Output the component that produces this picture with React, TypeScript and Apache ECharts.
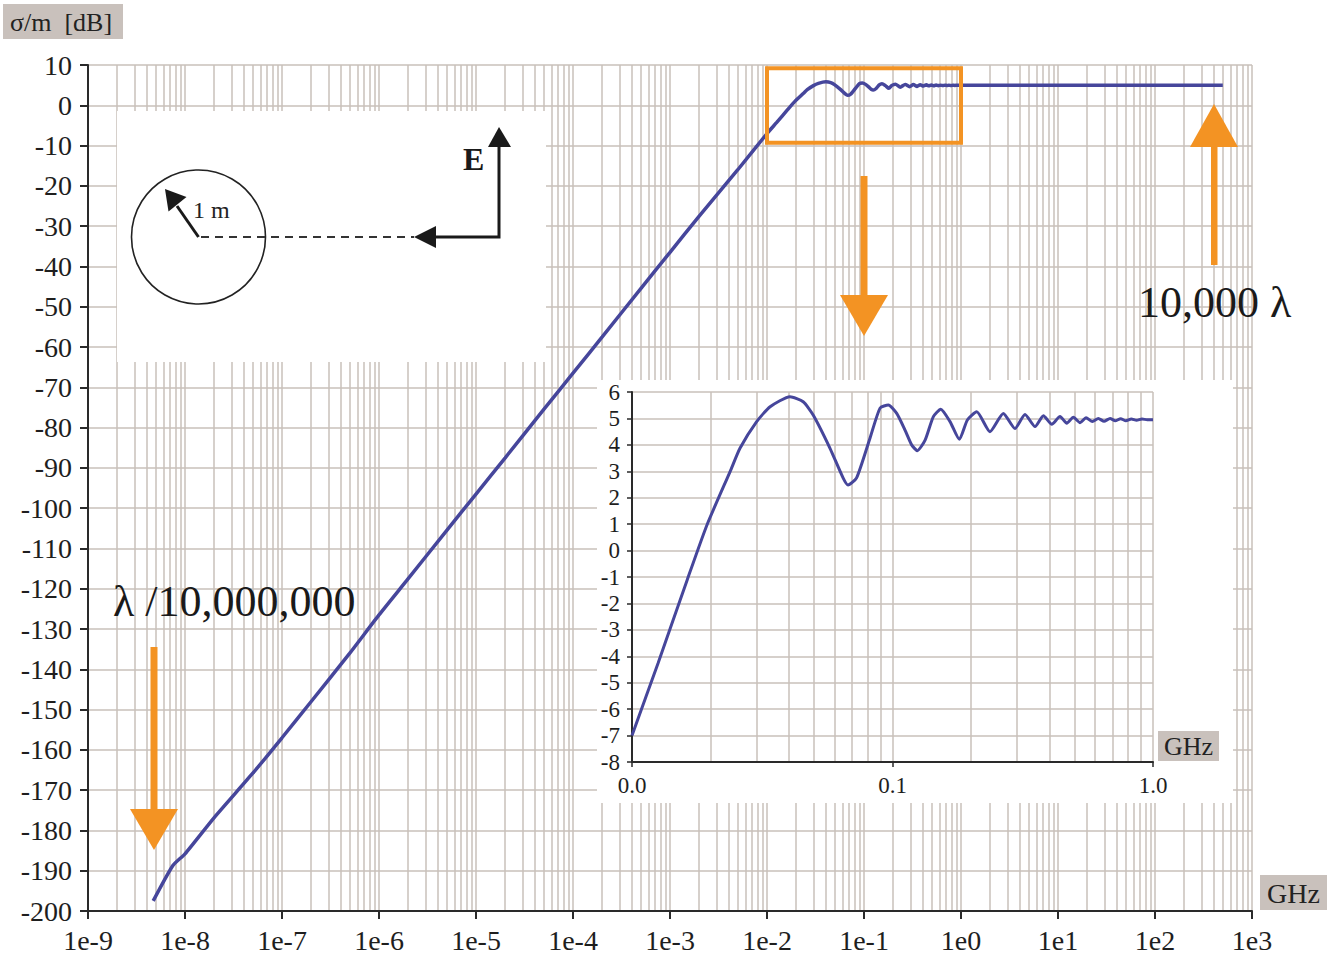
import React, { useEffect, useRef } from 'react';
import * as echarts from 'echarts';

const SERIF = '"Liberation Serif", "Times New Roman", serif';
const GRID_COLOR = '#c9c0ba';
const AXIS_COLOR = '#2a2a2a';
const LABEL_COLOR = '#1e1e1e';
const CURVE_COLOR = '#46469b';
const ORANGE = '#f39323';
const BOX_FILL = '#c9c1bc';

// Main axes (frequency in GHz, log scale; sigma/m in dB)
const mainFreqMin = 1e-9;
const mainFreqMax = 1e3;
const mainExpMin = -9; // decade exponents shown on the frequency axis
const mainExpMax = 3;
const mainDbMin = -200;
const mainDbMax = 10;
const mainDbStep = 10;
const mainDecades = [-9, -8, -7, -6, -5, -4, -3, -2, -1, 0, 1, 2];
const minorMultipliers = [2, 3, 4, 5, 6, 7, 8, 9];

// Zoomed panel axes
const zoomFreqMin = 0.01;
const zoomFreqMax = 1;
const zoomDbMin = -8;
const zoomDbMax = 6;
const zoomDbStep = 1;
const zoomDecades = [-2, -1];

// Rayleigh region of the 1 m sphere
const rayleighFreq = [4.7e-9, 7.5e-9, 1e-8, 2e-8, 5e-8, 1e-7, 2e-7, 5e-7, 1e-6, 2e-6, 5e-6, 1e-5, 2e-5, 5e-5, 1e-4, 2e-4, 5e-4, 1e-3, 2e-3, 5e-3];
const rayleighDb = [-197.5, -188.7, -185.8, -176.8, -165.8, -157, -148, -136, -126.5, -117.5, -105.5, -96.5, -87.5, -75.5, -66.5, -57.5, -45.5, -36.5, -27.5, -16];

// Mie (resonance) region, 0.01 .. 1 GHz
const mieFreq = [0.01, 0.0126, 0.0163, 0.0194, 0.0238, 0.026, 0.0301, 0.0339, 0.0404, 0.0454, 0.0496, 0.0575, 0.0646, 0.0675, 0.0728, 0.082, 0.0896, 0.0964, 0.1038, 0.1117, 0.1186, 0.1245, 0.1334, 0.1435, 0.1532, 0.1663, 0.1806, 0.1938, 0.2105, 0.2366, 0.2663, 0.2953, 0.3226, 0.3526, 0.3796, 0.4086, 0.4397, 0.4667, 0.4948, 0.5248, 0.5535, 0.5853, 0.6169, 0.6486, 0.6842, 0.7164, 0.7515, 0.787, 0.8257, 0.865, 0.9073, 0.95, 1.0];
const mieDb = [-7.0, -4.25, -1.1, 0.97, 2.99, 3.88, 4.88, 5.44, 5.82, 5.63, 5.13, 3.88, 2.75, 2.48, 2.75, 4.26, 5.39, 5.51, 5.19, 4.56, 3.99, 3.78, 4.18, 5.07, 5.35, 4.88, 4.21, 4.94, 5.25, 4.5, 5.19, 4.62, 5.15, 4.69, 5.1, 4.78, 5.07, 4.82, 5.04, 4.84, 5.03, 4.88, 5.0, 4.89, 5.0, 4.91, 4.99, 4.91, 4.98, 4.93, 4.98, 4.95, 4.95];

// Optical region
const opticalFreq = [500];
const opticalDb = [5.0];

// Highlighted frequency window on the main plot
const windowFreq = [0.01, 1];
const windowDb = [9.2, -9.3];

const zip = (xs: number[], ys: number[]) => xs.map((x, i) => [x, ys[i]]);

const minorTicks = (decades: number[]) => {
  const out: number[] = [];
  decades.forEach((d) => minorMultipliers.forEach((m) => out.push(m * Math.pow(10, d))));
  return out;
};

function buildOption(): echarts.EChartsOption {
  const mainCurve = [
    ...zip(rayleighFreq, rayleighDb),
    ...zip(mieFreq, mieDb),
    ...zip(opticalFreq, opticalDb),
  ];
  const zoomCurve = zip(mieFreq, mieDb);

  const gridLine = { color: GRID_COLOR, width: 1.5 };
  const axisLine = { show: true, onZero: false, lineStyle: { color: AXIS_COLOR, width: 2 } };
  const minorLineStyle = { type: 'solid', color: GRID_COLOR, width: 1.5 };

  return {
    animation: false,
    backgroundColor: '#ffffff',
    grid: [
      { left: 88, top: 65, width: 1164, height: 846, containLabel: false, outerBoundsMode: 'none' } as any,
      { left: 632, top: 392, width: 521, height: 370, containLabel: false, outerBoundsMode: 'none' } as any,
    ],
    xAxis: [
      {
        // log frequency scale carrying the data
        gridIndex: 0,
        type: 'log',
        logBase: 10,
        min: mainFreqMin,
        max: mainFreqMax,
        position: 'bottom',
        z: 0,
        axisLine: { show: false, onZero: false },
        axisTick: { show: false },
        axisLabel: { show: false },
        splitLine: { show: false },
      },
      {
        gridIndex: 1,
        type: 'log',
        logBase: 10,
        min: zoomFreqMin,
        max: zoomFreqMax,
        splitNumber: 2,
        position: 'bottom',
        z: 2,
        axisLine,
        axisTick: { show: true, length: 5, lineStyle: { color: AXIS_COLOR, width: 1.5 } },
        axisLabel: {
          interval: 0,
          formatter: (v: number) => v.toFixed(1),
          fontFamily: SERIF,
          fontSize: 23,
          color: LABEL_COLOR,
          margin: 12,
        },
        splitLine: { show: true, lineStyle: gridLine },
      },
      {
        // decade ruler of the main frequency axis (one step per decade)
        gridIndex: 0,
        type: 'value',
        min: mainExpMin,
        max: mainExpMax,
        interval: 1,
        position: 'bottom',
        z: 0,
        axisLine,
        axisTick: { show: true, length: 8, lineStyle: { color: AXIS_COLOR, width: 2 } },
        axisLabel: {
          interval: 0,
          formatter: (v: number) => `1e${v}`,
          fontFamily: SERIF,
          fontSize: 28,
          color: LABEL_COLOR,
          margin: 15,
        },
        splitLine: { show: true, lineStyle: gridLine },
      },
    ],
    yAxis: [
      {
        gridIndex: 0,
        type: 'value',
        min: mainDbMin,
        max: mainDbMax,
        interval: mainDbStep,
        z: 0,
        axisLine,
        axisTick: { show: true, length: 8, lineStyle: { color: AXIS_COLOR, width: 2 } },
        axisLabel: { fontFamily: SERIF, fontSize: 28, color: LABEL_COLOR, margin: 16 },
        splitLine: { show: true, lineStyle: gridLine },
      },
      {
        gridIndex: 1,
        type: 'value',
        min: zoomDbMin,
        max: zoomDbMax,
        interval: zoomDbStep,
        z: 2,
        axisLine,
        axisTick: { show: true, length: 5, lineStyle: { color: AXIS_COLOR, width: 1.5 } },
        axisLabel: { fontFamily: SERIF, fontSize: 23, color: LABEL_COLOR, margin: 12 },
        splitLine: { show: true, lineStyle: gridLine },
      },
    ],
    series: [
      {
        // minor decade lines of the main plot
        type: 'line',
        xAxisIndex: 0,
        yAxisIndex: 0,
        data: [],
        z: 0,
        silent: true,
        markLine: {
          z: 0,
          silent: true,
          precision: 20,
          symbol: 'none',
          label: { show: false },
          emphasis: { disabled: true },
          lineStyle: minorLineStyle,
          data: minorTicks(mainDecades).map((v) => ({ xAxis: v })),
        },
      },
      {
        // minor decade lines of the zoomed panel
        type: 'line',
        xAxisIndex: 1,
        yAxisIndex: 1,
        data: [],
        z: 2,
        silent: true,
        markLine: {
          z: 2,
          silent: true,
          precision: 20,
          symbol: 'none',
          label: { show: false },
          emphasis: { disabled: true },
          lineStyle: minorLineStyle,
          data: minorTicks(zoomDecades).map((v) => ({ xAxis: v })),
        },
      },
      {
        type: 'line',
        xAxisIndex: 0,
        yAxisIndex: 0,
        data: mainCurve,
        z: 3,
        smooth: 0.2,
        showSymbol: false,
        lineStyle: { color: CURVE_COLOR, width: 3.5 },
        markArea: {
          z: 4,
          silent: true,
          itemStyle: { color: 'rgba(0,0,0,0)', borderColor: ORANGE, borderWidth: 4 },
          label: { show: false },
          data: [[{ xAxis: windowFreq[0], yAxis: windowDb[0] }, { xAxis: windowFreq[1], yAxis: windowDb[1] }]],
        },
      },
      {
        type: 'line',
        xAxisIndex: 1,
        yAxisIndex: 1,
        data: zoomCurve,
        z: 3,
        smooth: 0.2,
        showSymbol: false,
        lineStyle: { color: CURVE_COLOR, width: 3 },
      },
    ],
    graphic: [
      // white panels
      { type: 'rect', z: 1, silent: true, shape: { x: 117, y: 111, width: 429, height: 251 }, style: { fill: '#ffffff' } },
      { type: 'rect', z: 1, silent: true, shape: { x: 597, y: 380, width: 636, height: 423 }, style: { fill: '#ffffff' } },

      // axis titles
      { type: 'rect', z: 10, shape: { x: 3, y: 4, width: 120, height: 35 }, style: { fill: BOX_FILL } },
      {
        type: 'text', z: 11, x: 10, y: 22,
        style: { text: 'σ/m  [dB]', font: `26px ${SERIF}`, fill: '#222', textAlign: 'left', align: 'left', textVerticalAlign: 'middle', verticalAlign: 'middle' } as any,
      },
      { type: 'rect', z: 10, shape: { x: 1260, y: 875, width: 67, height: 35 }, style: { fill: BOX_FILL } },
      {
        type: 'text', z: 11, x: 1293.5, y: 893,
        style: { text: 'GHz', font: `28px ${SERIF}`, fill: '#222', textAlign: 'center', align: 'center', textVerticalAlign: 'middle', verticalAlign: 'middle' } as any,
      },
      { type: 'rect', z: 10, shape: { x: 1158, y: 731, width: 61, height: 30 }, style: { fill: BOX_FILL } },
      {
        type: 'text', z: 11, x: 1188.5, y: 746,
        style: { text: 'GHz', font: `26px ${SERIF}`, fill: '#222', textAlign: 'center', align: 'center', textVerticalAlign: 'middle', verticalAlign: 'middle' } as any,
      },

      // sphere sketch
      { type: 'circle', z: 10, shape: { cx: 198.5, cy: 237, r: 67 }, style: { fill: 'none', stroke: '#222', lineWidth: 1.6 } },
      { type: 'line', z: 10, shape: { x1: 198.5, y1: 237, x2: 177, y2: 206 }, style: { stroke: '#1a1a1a', lineWidth: 3 } },
      { type: 'polygon', z: 10, shape: { points: [[165, 189], [186.5, 197], [168.5, 211.5]] }, style: { fill: '#1a1a1a' } },
      {
        type: 'text', z: 10, x: 193, y: 210,
        style: { text: '1 m', font: `24px ${SERIF}`, fill: '#222', textAlign: 'left', align: 'left', textVerticalAlign: 'middle', verticalAlign: 'middle' } as any,
      },
      { type: 'line', z: 10, shape: { x1: 201, y1: 237, x2: 414, y2: 237 }, style: { stroke: '#333', lineWidth: 2, lineDash: [8, 6] } },
      { type: 'polygon', z: 10, shape: { points: [[414, 237], [436, 226], [436, 248]] }, style: { fill: '#1a1a1a' } },
      { type: 'polyline', z: 10, shape: { points: [[434, 237], [499, 237], [499, 146]] }, style: { stroke: '#1a1a1a', lineWidth: 3, fill: 'none' } },
      { type: 'polygon', z: 10, shape: { points: [[499, 127], [488, 147], [511, 147]] }, style: { fill: '#1a1a1a' } },
      {
        type: 'text', z: 10, x: 463, y: 159,
        style: { text: 'E', font: `bold 32px ${SERIF}`, fill: '#1a1a1a', textAlign: 'left', align: 'left', textVerticalAlign: 'middle', verticalAlign: 'middle' } as any,
      },

      // orange pointers
      { type: 'rect', z: 10, shape: { x: 860.5, y: 176, width: 7, height: 122 }, style: { fill: ORANGE } },
      { type: 'polygon', z: 10, shape: { points: [[840, 295], [888, 295], [864, 336]] }, style: { fill: ORANGE } },
      { type: 'rect', z: 10, shape: { x: 1211, y: 144, width: 6.5, height: 121 }, style: { fill: ORANGE } },
      { type: 'polygon', z: 10, shape: { points: [[1190, 147], [1238, 147], [1214, 104]] }, style: { fill: ORANGE } },
      { type: 'rect', z: 10, shape: { x: 150.5, y: 647, width: 7, height: 165 }, style: { fill: ORANGE } },
      { type: 'polygon', z: 10, shape: { points: [[130, 809], [178, 809], [154, 850]] }, style: { fill: ORANGE } },

      // wavelength annotations
      {
        type: 'text', z: 10, x: 1138, y: 302,
        style: { text: '10,000 λ', font: `44px ${SERIF}`, fill: '#1a1a1a', textAlign: 'left', align: 'left', textVerticalAlign: 'middle', verticalAlign: 'middle' } as any,
      },
      {
        type: 'text', z: 10, x: 113, y: 601,
        style: { text: 'λ /10,000,000', font: `44px ${SERIF}`, fill: '#1a1a1a', textAlign: 'left', align: 'left', textVerticalAlign: 'middle', verticalAlign: 'middle' } as any,
      },
    ],
  } as echarts.EChartsOption;
}

export default function App() {
  const ref = useRef<HTMLDivElement>(null);
  useEffect(() => {
    document.body.style.margin = '0';
    if (!ref.current) return;
    const chart = echarts.init(ref.current, undefined, { renderer: 'svg' });
    chart.setOption(buildOption());
    return () => chart.dispose();
  }, []);
  return <div ref={ref} style={{ width: 1337, height: 956 }} />;
}
